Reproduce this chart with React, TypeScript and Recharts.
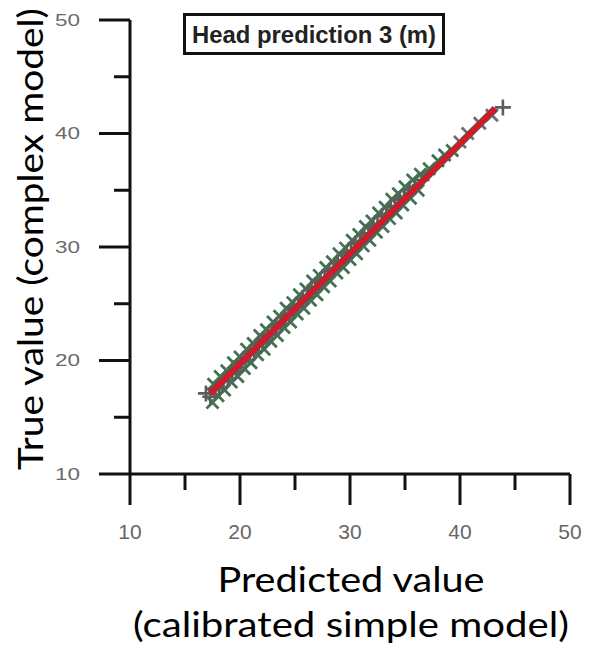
import React from 'react';
import { ScatterChart, Scatter, XAxis, YAxis } from 'recharts';

// Axis ticks (major every 10, minor every 5)
const axisTicks = [10, 15, 20, 25, 30, 35, 40, 45, 50];

// Grey "+" markers: predicted vs true head
const plusPoints: [number, number][] = [
  [16.9, 17.1], [17.3, 16.8], [17.7, 17.5], [18.1, 17.5], [18.5, 18.2],
  [18.9, 18.3], [19.3, 19.0], [19.7, 19.1], [20.1, 19.9], [20.5, 19.9],
  [20.9, 20.7], [21.3, 20.7], [21.7, 21.5], [22.1, 21.6], [22.5, 22.3],
  [22.9, 22.3], [23.3, 23.1], [23.7, 23.2], [24.1, 23.9], [24.5, 24.0],
  [24.9, 24.7], [25.3, 24.8], [25.7, 25.5], [26.1, 25.6], [26.5, 26.3],
  [26.9, 26.4], [27.3, 27.1], [27.7, 27.2], [28.1, 27.9], [28.5, 28.0],
  [28.9, 28.7], [29.3, 28.8], [29.7, 29.5], [30.1, 29.6], [30.5, 30.3],
  [30.9, 30.4], [31.3, 31.1], [31.7, 31.2], [32.1, 31.9], [32.5, 32.0],
  [32.9, 32.7], [33.3, 32.8], [33.7, 33.5], [34.1, 33.6], [34.5, 34.2],
  [34.9, 34.4], [35.4, 35.0], [35.9, 35.3], [36.5, 35.9], [43.9, 42.3],
];

// Green "x" markers, upper side of the band
const crossUpper: [number, number][] = [
  [17.6, 17.9], [18.2, 18.6], [18.8, 19.1], [19.4, 19.8], [20.0, 20.3],
  [20.6, 21.0], [21.2, 21.5], [21.8, 22.2], [22.4, 22.7], [23.0, 23.4],
  [23.6, 23.9], [24.2, 24.6], [24.8, 25.1], [25.4, 25.8], [26.0, 26.3],
  [26.6, 27.0], [27.2, 27.5], [27.8, 28.2], [28.4, 28.7], [29.0, 29.4],
  [29.6, 29.9], [30.2, 30.6], [30.8, 31.1], [31.4, 31.8], [32.0, 32.3],
  [32.6, 33.0], [33.2, 33.5], [33.8, 34.2], [34.4, 34.7], [35.0, 35.3],
  [35.7, 35.9], [36.4, 36.4], [37.2, 36.9], [38.0, 37.6], [38.6, 38.1],
  [39.3, 38.5],
];

// Green "x" markers, lower side of the band
const crossLower: [number, number][] = [
  [17.5, 16.3], [18.0, 16.9], [18.6, 17.4], [19.2, 18.1], [19.8, 18.6],
  [20.4, 19.3], [21.0, 19.8], [21.6, 20.5], [22.2, 21.0], [22.8, 21.7],
  [23.4, 22.2], [24.0, 22.9], [24.6, 23.4], [25.2, 24.1], [25.8, 24.6],
  [26.4, 25.3], [27.0, 25.8], [27.6, 26.5], [28.2, 27.0], [28.8, 27.7],
  [29.4, 28.2], [30.0, 28.9], [30.6, 29.4], [31.2, 30.1], [31.8, 30.6],
  [32.4, 31.3], [33.0, 31.8], [33.6, 32.5], [34.2, 33.0], [34.8, 33.7],
  [35.5, 34.3], [36.2, 35.0],
];

// Grey "x" markers at the high end
const upperCrossPoints: [number, number][] = [
  [40.0, 39.25], [40.7, 40.0], [41.8, 40.9], [42.9, 41.6],
];

// Red fitted line end points
const fitLine: [number, number][] = [
  [17.3, 17.1], [43.2, 42.2],
];

const toXY = (pts: [number, number][]) => pts.map(([x, y]) => ({ x, y }));

const PlusMarker = (props: any) => {
  const { cx, cy } = props;
  const r = 8;
  return (
    <path
      d={`M${cx - r},${cy}H${cx + r}M${cx},${cy - r}V${cy + r}`}
      stroke="#5a5f5a"
      strokeWidth={2.6}
      fill="none"
    />
  );
};

const makeCross = (color: string, r: number) => (props: any) => {
  const { cx, cy } = props;
  return (
    <path
      d={`M${cx - r},${cy - r}L${cx + r},${cy + r}M${cx - r},${cy + r}L${cx + r},${cy - r}`}
      stroke={color}
      strokeWidth={2.8}
      fill="none"
    />
  );
};

const GreenCross = makeCross('#3f7352', 6);
const GreyCross = makeCross('#6e6e6e', 6);
const NoMarker = () => <g />;

const XTick = (props: any) => {
  const { x, y, payload } = props;
  const major = payload.value % 10 === 0;
  return (
    <g>
      <line x1={x} y1={y} x2={x} y2={y + (major ? 31 : 16)} stroke="#111" strokeWidth={3} />
      {major && (
        <text
          x={x}
          y={y + 57}
          textAnchor="middle"
          dominantBaseline="central"
          fontSize={21}
          fill="#666"
          fontFamily="Liberation Sans, Arial, sans-serif"
        >
          {payload.value}
        </text>
      )}
    </g>
  );
};

const YTick = (props: any) => {
  const { x, y, payload } = props;
  const major = payload.value % 10 === 0;
  return (
    <g>
      <line x1={x} y1={y} x2={x - (major ? 31 : 16)} y2={y} stroke="#111" strokeWidth={3} />
      {major && (
        <text
          x={x - 50}
          y={y}
          textAnchor="end"
          dominantBaseline="central"
          fontSize={17}
          textLength={25}
          lengthAdjust="spacingAndGlyphs"
          fill="#6a6a6a"
          fontFamily="Liberation Sans, Arial, sans-serif"
        >
          {payload.value}
        </text>
      )}
    </g>
  );
};

export default function App() {
  return (
    <div style={{ position: 'absolute', left: 0, top: 0, width: 602, height: 648, background: '#fff' }}>
      <ScatterChart width={602} height={648} margin={{ top: 20, right: 32, bottom: 0, left: 0 }}>
        <XAxis
          type="number"
          dataKey="x"
          domain={[10, 50]}
          ticks={axisTicks}
          interval={0}
          height={174}
          axisLine={{ stroke: '#111', strokeWidth: 3 }}
          tickLine={false}
          tickSize={0}
          tickMargin={0}
          tick={(p: any) => <XTick {...p} />}
        />
        <YAxis
          type="number"
          dataKey="y"
          domain={[10, 50]}
          ticks={axisTicks}
          interval={0}
          width={130}
          axisLine={{ stroke: '#111', strokeWidth: 3 }}
          tickLine={false}
          tickSize={0}
          tickMargin={0}
          tick={(p: any) => <YTick {...p} />}
        />
        <Scatter data={toXY(crossUpper)} shape={GreenCross} isAnimationActive={false} />
        <Scatter data={toXY(crossLower)} shape={GreenCross} isAnimationActive={false} />
        <Scatter data={toXY(plusPoints)} shape={PlusMarker} isAnimationActive={false} />
        <Scatter data={toXY(upperCrossPoints)} shape={GreyCross} isAnimationActive={false} />
        <Scatter
          data={toXY(fitLine)}
          shape={NoMarker}
          line={{ stroke: '#8e3a45', strokeWidth: 7 }}
          isAnimationActive={false}
        />
        <Scatter
          data={toXY(fitLine)}
          shape={NoMarker}
          line={{ stroke: '#e3141f', strokeWidth: 3.5 }}
          isAnimationActive={false}
        />
      </ScatterChart>
      <svg
        width={602}
        height={648}
        style={{ position: 'absolute', left: 0, top: 0, pointerEvents: 'none' }}
      >
        <rect x={184.5} y={14.5} width={259} height={39} fill="#fff" stroke="#111" strokeWidth={3} />
        <text
          x={314}
          y={43}
          textAnchor="middle"
          fontSize={24}
          fontWeight="bold"
          textLength={244}
          lengthAdjust="spacingAndGlyphs"
          fill="#222"
          fontFamily="Liberation Sans, Arial, sans-serif"
        >
          Head prediction 3 (m)
        </text>
        <text
          x={43}
          y={239}
          transform="rotate(-90, 43, 239)"
          textAnchor="middle"
          fontSize={34}
          textLength={462}
          lengthAdjust="spacingAndGlyphs"
          fill="#000"
          fontFamily="Lato, 'Open Sans', sans-serif"
        >
          True value (complex model)
        </text>
        <text
          x={351}
          y={592}
          textAnchor="middle"
          fontSize={34}
          textLength={267}
          lengthAdjust="spacingAndGlyphs"
          fill="#000"
          fontFamily="Lato, 'Open Sans', sans-serif"
        >
          Predicted value
        </text>
        <text
          x={351}
          y={637}
          textAnchor="middle"
          fontSize={34}
          textLength={436}
          lengthAdjust="spacingAndGlyphs"
          fill="#000"
          fontFamily="Lato, 'Open Sans', sans-serif"
        >
          (calibrated simple model)
        </text>
      </svg>
    </div>
  );
}
